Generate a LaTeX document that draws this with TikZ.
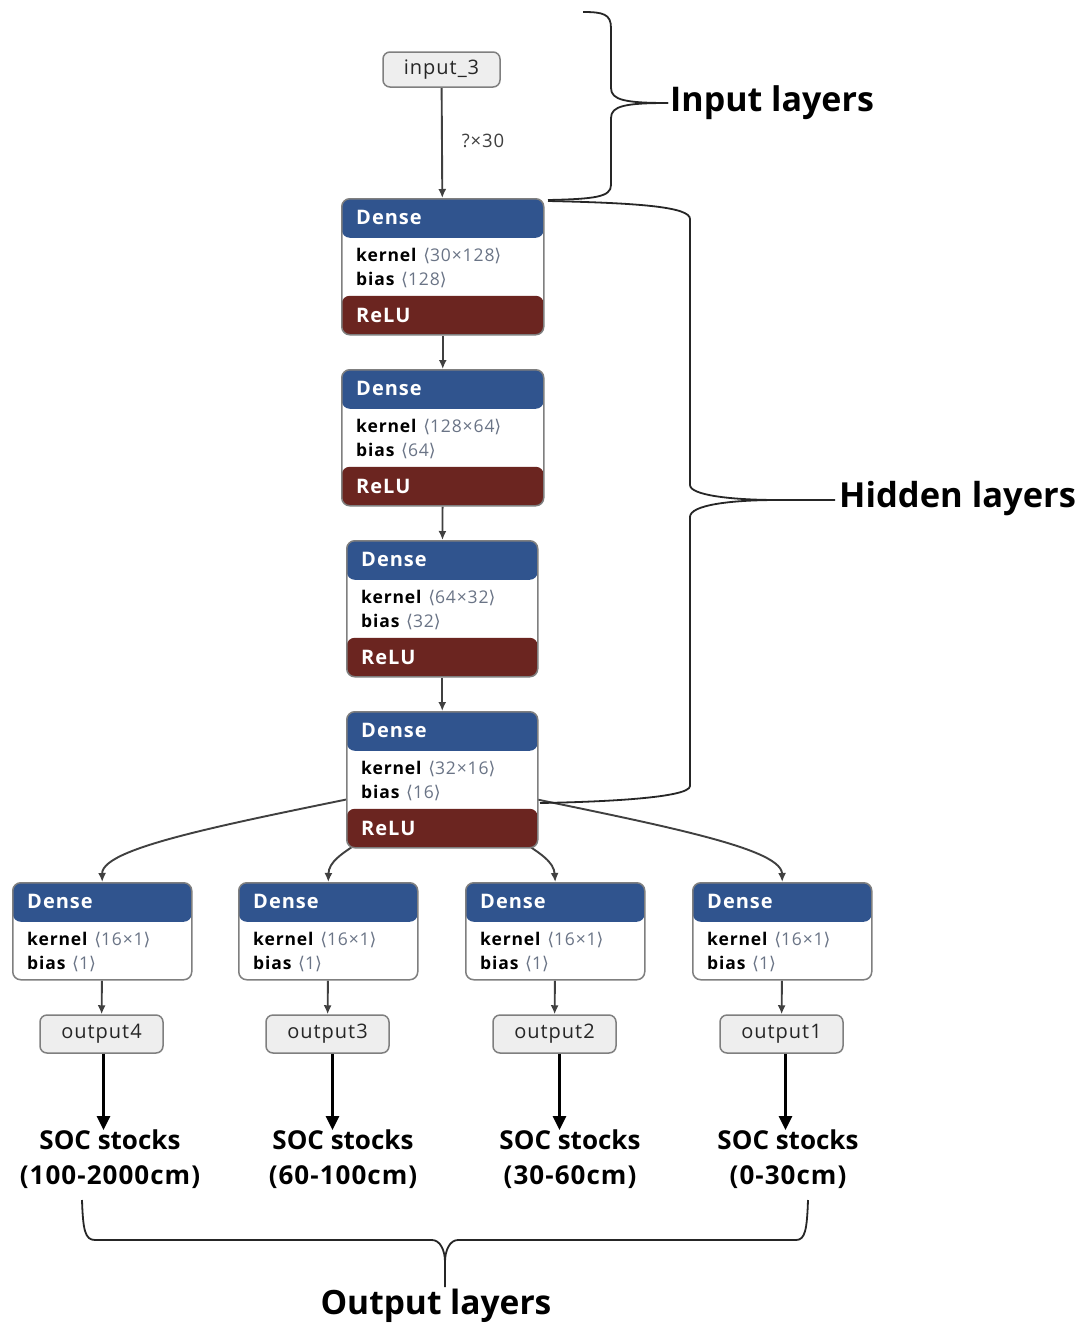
\documentclass[tikz,border=0pt]{standalone}
\usepackage{fontspec}
\setmainfont{Open Sans}
\newfontfamily\netfont[LetterSpace=5]{Open Sans}
\newfontfamily\dvs{DejaVu Sans}
\usetikzlibrary{arrows.meta}
\pgfdeclarelayer{bg}
\pgfsetlayers{bg,main}
\definecolor{hdr}{HTML}{30548E}
\definecolor{rel}{HTML}{6B2520}
\definecolor{bord}{HTML}{7F7F7F}
\definecolor{boxfill}{HTML}{EEEEEE}
\definecolor{dimc}{HTML}{6A7486}
\tikzset{
  dbox/.style={draw=bord, fill=white, line width=1.5pt, rounded corners=8pt, inner sep=0pt,
    path picture={\fill[hdr] (path picture bounding box.north west) rectangle ([yshift=-39pt]path picture bounding box.north east);}},
  dboxr/.style={draw=bord, fill=white, line width=1.5pt, rounded corners=8pt, inner sep=0pt,
    path picture={\fill[hdr] (path picture bounding box.north west) rectangle ([yshift=-39pt]path picture bounding box.north east);
      \fill[rel] ([yshift=39pt]path picture bounding box.south west) rectangle (path picture bounding box.south east);}},
  hdrtxt/.style={anchor=base west, inner sep=0pt, text=white, font=\netfont\fontsize{20}{24}\selectfont\bfseries},
  ktxt/.style={anchor=base west, inner sep=0pt, text=black, font=\netfont\fontsize{17.5}{20}\selectfont},
  iobox/.style={draw=bord, fill=boxfill, rounded corners=7pt, line width=1.5pt, inner sep=0pt,
    text=black!85, font=\netfont\fontsize{20}{22}\selectfont},
  edge/.style={draw=black!75, line width=1.9pt, -{Latex[length=9pt,width=8pt]}},
  bigarr/.style={draw=black, line width=2.6pt, -{Triangle[length=14pt,width=13pt]}},
  brc/.style={draw=black!85, line width=1.8pt},
  soctxt/.style={align=center, inner sep=0pt, anchor=north, font=\fontsize{26}{35}\selectfont\bfseries},
  bigtxt/.style={inner sep=0pt, font=\fontsize{34}{38}\selectfont\bfseries}
}
\newcommand{\dns}[8]{%
  \node[#8, minimum width=#4pt, minimum height=#5pt, anchor=north west] (#1) at (#2,#3) {};
  \node[hdrtxt] (#1h) at ([xshift=15pt,yshift=-26pt]#1.north west) {Dense};
  \node[ktxt] (#1k) at ([xshift=15pt,yshift=-63pt]#1.north west) {\textbf{kernel}\,\,\textcolor{dimc}{{\dvs ⟨}#6{\dvs ⟩}}};
  \node[ktxt] (#1b) at ([xshift=15pt,yshift=-87pt]#1.north west) {\textbf{bias}\,\,\textcolor{dimc}{{\dvs ⟨}#7{\dvs ⟩}}};
}
\newcommand{\wide}[1]{{\addfontfeature{LetterSpace=4}#1}}
\begin{document}
\begin{tikzpicture}[x=1pt,y=-1pt]
\useasboundingbox (0,0) rectangle (1086,1325);
\begin{pgfonlayer}{bg}
\fill[white] (0,0) rectangle (1086,1325);
\end{pgfonlayer}

% input
\node[iobox, minimum width=117pt, minimum height=35pt] (in3) at (441.5,69.5) {input\_3};
\node[inner sep=0pt, text=black!75, font=\netfont\fontsize{18.5}{20}\selectfont] (shp) at (483,141) {?×30};

% hidden dense blocks
\dns{d1}{341}{198}{202}{136}{30×128}{128}{dboxr}
\node[hdrtxt] (d1r) at ([xshift=15pt,yshift=-124pt]d1.north west) {ReLU};
\dns{d2}{341}{369}{202}{136}{128×64}{64}{dboxr}
\node[hdrtxt] (d2r) at ([xshift=15pt,yshift=-124pt]d2.north west) {ReLU};
\dns{d3}{346}{540}{191}{136}{64×32}{32}{dboxr}
\node[hdrtxt] (d3r) at ([xshift=15pt,yshift=-124pt]d3.north west) {ReLU};
\dns{d4}{346}{711}{191}{136}{32×16}{16}{dboxr}
\node[hdrtxt] (d4r) at ([xshift=15pt,yshift=-124pt]d4.north west) {ReLU};

% output dense blocks
\dns{e4}{12}{882}{179}{97}{16×1}{1}{dbox}
\dns{e3}{238}{882}{179}{97}{16×1}{1}{dbox}
\dns{e2}{465}{882}{179}{97}{16×1}{1}{dbox}
\dns{e1}{692}{882}{179}{97}{16×1}{1}{dbox}

% output boxes
\node[iobox, minimum width=123pt, minimum height=38pt] (o4) at (101.5,1034) {output4};
\node[iobox, minimum width=123pt, minimum height=38pt] (o3) at (327.5,1034) {output3};
\node[iobox, minimum width=123pt, minimum height=38pt] (o2) at (554.5,1034) {output2};
\node[iobox, minimum width=123pt, minimum height=38pt] (o1) at (781.5,1034) {output1};

% SOC labels
\node[soctxt] (s4) at (110,1130) {SOC stocks\\\wide{(100-2000cm)}};
\node[soctxt] (s3) at (343,1130) {SOC stocks\\\wide{(60-100cm)}};
\node[soctxt] (s2) at (570,1130) {SOC stocks\\\wide{(30-60cm)}};
\node[soctxt] (s1) at (788,1130) {SOC stocks\\\wide{(0-30cm)}};

% big labels
\node[bigtxt, anchor=west] (lin) at (670,103) {Input layers};
\node[bigtxt, anchor=west, font=\fontsize{34.5}{38}\selectfont\bfseries] (lhid) at (839,499) {Hidden layers};
\node[bigtxt, font=\fontsize{33.5}{38}\selectfont\bfseries] (lout) at (436,1306) {Output layers};

\begin{pgfonlayer}{bg}
\draw[edge] (in3) -- (d1);
\draw[edge] (d1) -- (d2);
\draw[edge] (d2) -- (d3);
\draw[edge] (d3) -- (d4);
\draw[edge] (d4.center) .. controls (250,820) and (101.5,845) .. (e4.north);
\draw[edge] (d4.center) .. controls (380,840) and (329,850) .. (e3.north);
\draw[edge] (d4.center) .. controls (502,840) and (553,850) .. (e2.north);
\draw[edge] (d4.center) .. controls (632,820) and (781.5,845) .. (e1.north);
\draw[edge] (e4) -- (o4);
\draw[edge] (e3) -- (o3);
\draw[edge] (e2) -- (o2);
\draw[edge] (e1) -- (o1);
\end{pgfonlayer}

\draw[bigarr] ([xshift=2pt]o4.south) -- ([xshift=2pt]o4.south |- s4.north);
\draw[bigarr] ([xshift=5pt]o3.south) -- ([xshift=5pt]o3.south |- s3.north);
\draw[bigarr] ([xshift=5pt]o2.south) -- ([xshift=5pt]o2.south |- s2.north);
\draw[bigarr] ([xshift=4pt]o1.south) -- ([xshift=4pt]o1.south |- s1.north);

% braces
\coordinate (bi) at (668,103);
\draw[brc] (583,12) .. controls (603,12) and (611,14) .. (611,28) -- (611,88)
  .. controls (611,100) and (625,103) .. (bi);
\draw[brc] (bi) .. controls (625,103) and (611,106) .. (611,118) -- (611,185)
  .. controls (611,197) and (595,199) .. (548,200);

\coordinate (bh) at (835,500);
\draw[brc] (548,201) .. controls (640,203) and (690,207) .. (690,219) -- (690,485)
  .. controls (690,495) and (730,500) .. (778,500) -- (bh);
\draw[brc] (778,500) .. controls (730,500) and (690,505) .. (690,517) -- (690,786)
  .. controls (690,798) and (600,802) .. (540,803);

\coordinate (bo) at (445,1287);
\draw[brc] (82,1200) .. controls (83,1230) and (85,1240) .. (95,1240) -- (432,1240)
  .. controls (440,1240) and (445,1250) .. (445,1262) -- (bo);
\draw[brc] (445,1262) .. controls (445,1250) and (450,1240) .. (458,1240) -- (796,1240)
  .. controls (805,1240) and (807,1230) .. (808,1200);
\end{tikzpicture}
\end{document}
